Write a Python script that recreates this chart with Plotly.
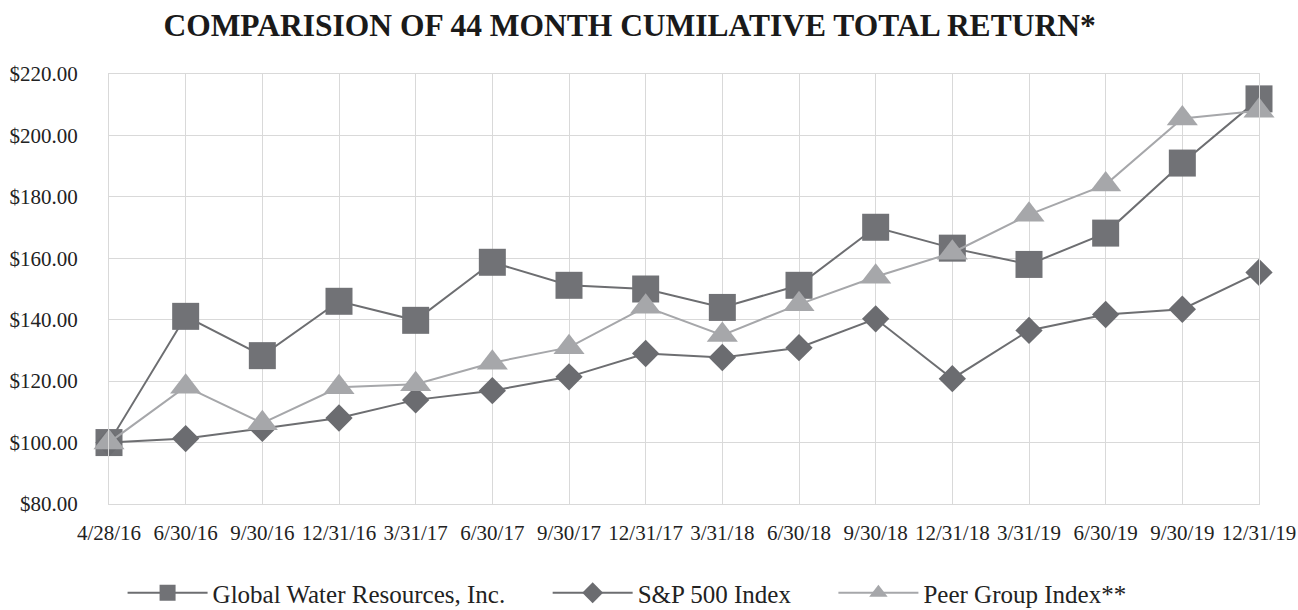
import plotly.graph_objects as go

dates = ["4/28/16", "6/30/16", "9/30/16", "12/31/16", "3/31/17", "6/30/17", "9/30/17",
         "12/31/17", "3/31/18", "6/30/18", "9/30/18", "12/31/18", "3/31/19", "6/30/19",
         "9/30/19", "12/31/19"]
global_water = [100.0, 141.1, 128.3, 146.0, 139.8, 158.7, 151.2, 150.0, 144.0, 151.2,
                170.1, 163.3, 158.0, 168.2, 191.0, 211.9]
sp500 = [100.0, 101.3, 104.6, 108.0, 113.9, 116.9, 121.4, 129.0, 127.7, 130.9,
         140.3, 120.8, 136.5, 141.7, 143.4, 155.4]
peer_group = [100.0, 118.2, 106.3, 118.0, 119.0, 126.0, 131.0, 144.2, 135.0, 145.0,
              154.0, 161.8, 174.2, 184.0, 205.5, 208.0]

y_ticks = [80, 100, 120, 140, 160, 180, 200, 220]
y_tick_text = ["$%.2f" % v for v in y_ticks]

DARK = "#717276"
LIGHT = "#a6a7aa"
GRID = "#d9d9d9"
FONT = "Liberation Serif"
NB = "\u00a0"

fig = go.Figure()
fig.add_trace(go.Scatter(
    x=dates, y=global_water, name="Global Water Resources, Inc." + NB * 6,
    mode="lines+markers", cliponaxis=False,
    line=dict(color="#6d6e71", width=2),
    marker=dict(symbol="square", size=27, color=DARK),
))
fig.add_trace(go.Scatter(
    x=dates, y=sp500, name="S&P 500 Index" + NB * 6,
    mode="lines+markers", cliponaxis=False,
    line=dict(color="#6d6e71", width=2),
    marker=dict(symbol="diamond", size=21, color="#6b6c70"),
))
fig.add_trace(go.Scatter(
    x=dates, y=peer_group, name="Peer Group Index**",
    mode="lines+markers", cliponaxis=False,
    line=dict(color=LIGHT, width=2),
    marker=dict(symbol="triangle-up", size=27, color=LIGHT),
))

fig.update_layout(
    width=1298, height=610,
    paper_bgcolor="white", plot_bgcolor="white",
    margin=dict(l=109, r=39, t=74, b=106, autoexpand=False),
    font=dict(family=FONT, color="#222222"),
    title=dict(
        text="<b>COMPARISION OF 44 MONTH CUMILATIVE TOTAL RETURN*</b>",
        font=dict(family=FONT, size=31.5, color="#1a1a1a"),
        x=0.485, xanchor="center", y=0.959, yanchor="middle", xref="container", yref="container",
    ),
    legend=dict(
        orientation="h", x=0.4505, xanchor="center", y=-0.207, yanchor="middle",
        font=dict(family=FONT, size=25, color="#222222"),
        itemwidth=80, bgcolor="rgba(0,0,0,0)",
    ),
    showlegend=True,
)
fig.update_xaxes(
    type="category", range=[0, len(dates) - 1], automargin=False,
    showgrid=True, gridcolor=GRID, gridwidth=1.3,
    showline=True, linecolor=GRID, linewidth=1.3, mirror=True,
    zeroline=False, ticks="", ticklabelstandoff=10,
    tickfont=dict(family=FONT, size=21, color="#222222"),
)
fig.update_yaxes(
    range=[80, 220], tickvals=y_ticks, ticktext=y_tick_text, automargin=False,
    showgrid=True, gridcolor=GRID, gridwidth=1.3,
    showline=True, linecolor=GRID, linewidth=1.3, mirror=True,
    zeroline=False, ticks="", ticklabelstandoff=26,
    tickfont=dict(family=FONT, size=21, color="#222222"),
)

fig.write_html("out.html", config={"displayModeBar": False},
               post_script="document.body.style.margin='0';")
